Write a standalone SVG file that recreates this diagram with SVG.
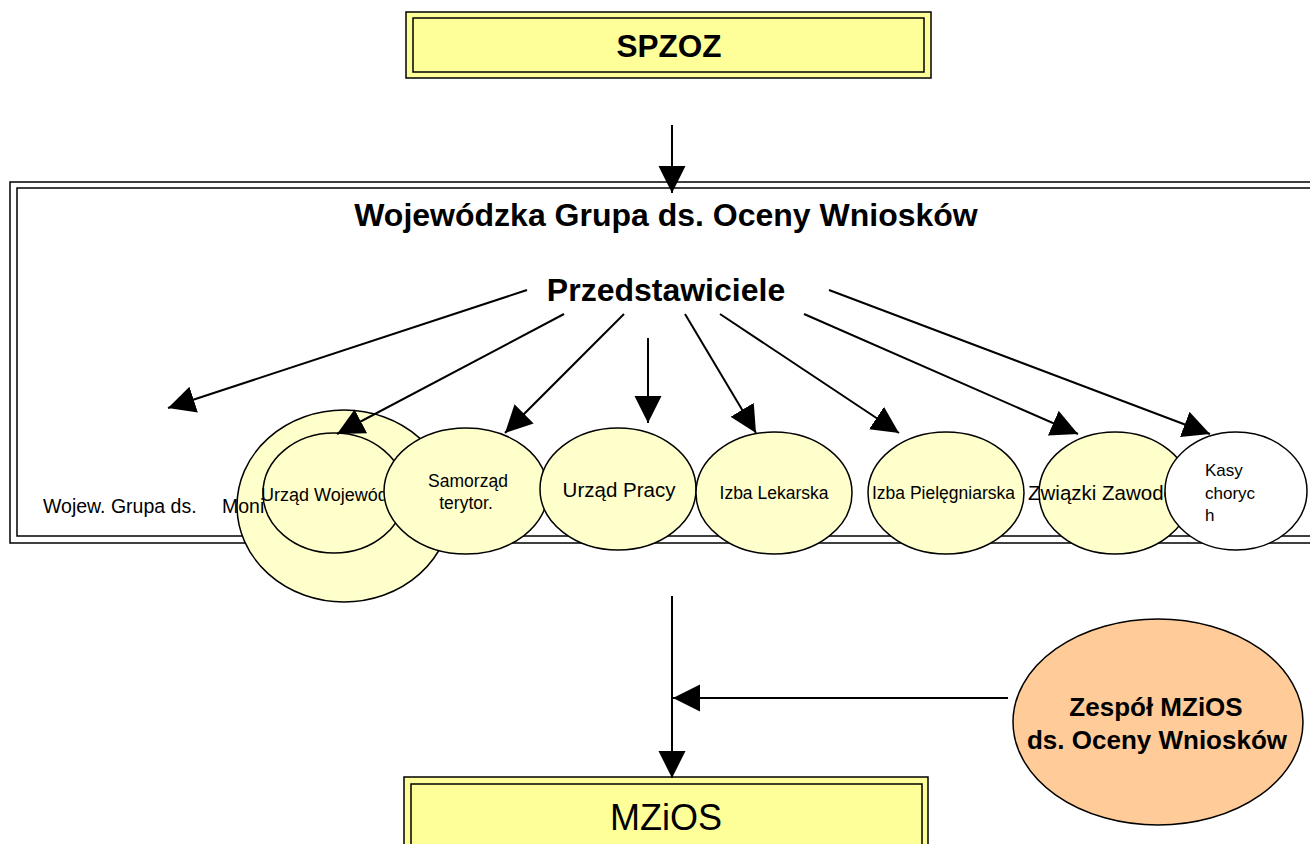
<svg xmlns="http://www.w3.org/2000/svg" width="1310" height="844" viewBox="0 0 1310 844">
<style>
.box{fill:#FFFF99;stroke:#000;stroke-width:1.5}
.frame{fill:none;stroke:#000;stroke-width:1.5}
.ell{fill:#FFFFCC;stroke:#000;stroke-width:1.5}
.t{font-family:"Liberation Sans",Arial,sans-serif;fill:#000}
.b{font-weight:bold}
.c{text-anchor:middle}
.ln{stroke:#000;stroke-width:2;fill:none;marker-end:url(#ah)}
</style>
<defs>
<marker id="ah" markerUnits="userSpaceOnUse" markerWidth="28" markerHeight="28" refX="27" refY="13.5" orient="auto" viewBox="0 0 28 28">
<path d="M0,0 L27,13.5 L0,27 z" fill="#000"/>
</marker>
</defs>
<rect width="1310" height="844" fill="#fff"/>

<g id="spzoz">
<rect class="box" x="406" y="12" width="525" height="66"/>
<rect class="frame" x="413" y="18" width="511" height="54"/>
<text class="t b c" x="669" y="57" font-size="31.5">SPZOZ</text>
</g>

<g id="wojewodzka-grupa">
<rect class="frame" x="10" y="182" width="1320" height="361"/>
<rect class="frame" x="17" y="188" width="1310" height="348"/>
<text class="t b c" x="666" y="226" font-size="32">Wojewódzka Grupa ds. Oceny Wniosków</text>
<text class="t b c" x="666" y="301" font-size="32">Przedstawiciele</text>
</g>

<g id="wojew-grupa-monit">
<ellipse class="ell" cx="344" cy="506" rx="107" ry="96"/>
<text class="t" y="513" font-size="19.5"><tspan x="43">Wojew. Grupa ds.</tspan><tspan x="222">Moni</tspan></text>
</g>

<g id="urzad-wojewodzki">
<ellipse class="ell" cx="334" cy="493" rx="71" ry="60"/>
<text class="t" x="261" y="501" font-size="18">Urząd Wojewódzki</text>
</g>

<g id="samorzad">
<ellipse class="ell" cx="466" cy="491" rx="82" ry="63"/>
<text class="t c" x="468" y="487" font-size="17.5">Samorząd</text>
<text class="t c" x="466" y="509" font-size="17.5">terytor.</text>
</g>

<g id="urzad-pracy">
<ellipse class="ell" cx="618" cy="489" rx="78" ry="61"/>
<text class="t c" x="619" y="497" font-size="20.5">Urząd Pracy</text>
</g>

<g id="izba-lekarska">
<ellipse class="ell" cx="774" cy="493" rx="78" ry="61"/>
<text class="t c" x="774" y="499" font-size="17.5">Izba Lekarska</text>
</g>

<g id="izba-pielegniarska">
<ellipse class="ell" cx="946" cy="493" rx="78" ry="61"/>
<text class="t" x="872" y="499" font-size="17.5">Izba Pielęgniarska</text>
</g>

<g id="zwiazki-zawodowe">
<ellipse class="ell" cx="1115" cy="493" rx="76" ry="61"/>
<text class="t" x="1028" y="500" font-size="20.5">Związki Zawodowe</text>
</g>

<g id="kasy-chorych">
<ellipse cx="1236" cy="491" rx="71" ry="59" fill="#fff" stroke="#000" stroke-width="1.5"/>
<text class="t" x="1205" y="476" font-size="17">Kasy</text>
<text class="t" x="1205" y="499" font-size="17">choryc</text>
<text class="t" x="1205" y="521" font-size="17">h</text>
</g>

<g id="zespol-mzios">
<ellipse cx="1158" cy="722" rx="145" ry="103" fill="#FFCC99" stroke="#000" stroke-width="1.5"/>
<text class="t b c" x="1156" y="716" font-size="26">Zespół MZiOS</text>
<text class="t b c" x="1157" y="749" font-size="26">ds. Oceny Wniosków</text>
</g>

<g id="mzios">
<rect class="box" x="404" y="777" width="524" height="80"/>
<rect class="frame" x="411" y="784" width="511" height="70"/>
<text class="t c" x="666" y="830" font-size="36">MZiOS</text>
</g>

<g id="connectors">
<line class="ln" x1="672" y1="125" x2="672" y2="193"/>
<line class="ln" x1="527" y1="290" x2="168" y2="408"/>
<line class="ln" x1="564" y1="314" x2="337" y2="434"/>
<line class="ln" x1="624" y1="314" x2="505" y2="433"/>
<line class="ln" x1="648" y1="338" x2="648" y2="423"/>
<line class="ln" x1="685" y1="314" x2="756" y2="433"/>
<line class="ln" x1="720" y1="314" x2="899" y2="433"/>
<line class="ln" x1="804" y1="314" x2="1078" y2="434"/>
<line class="ln" x1="829" y1="290" x2="1210" y2="434"/>
<line class="ln" x1="672" y1="596" x2="672" y2="778"/>
<line class="ln" x1="1008" y1="698" x2="673" y2="698"/>
</g>
</svg>
